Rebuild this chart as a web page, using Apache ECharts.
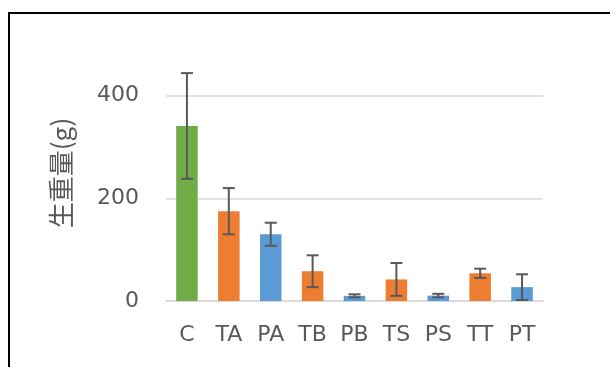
<!DOCTYPE html>
<html>
<head>
<meta charset="utf-8">
<script src="https://cdn.jsdelivr.net/npm/echarts@6/dist/echarts.min.js"></script>
<style>html,body{margin:0;padding:0;background:#fff;}#c{width:610px;height:367px;}</style>
</head>
<body>
<div id="c"></div>
<script>
var categories = ['C', 'TA', 'PA', 'TB', 'PB', 'TS', 'PS', 'TT', 'PT'];
var values = [341, 175, 130, 58, 10, 42, 10.5, 54, 27];
var errors = [103, 45, 22.5, 31, 3, 32, 3.5, 9, 25];
var barColors = ['#70AD47', '#ED7D31', '#5B9BD5', '#ED7D31', '#5B9BD5', '#ED7D31', '#5B9BD5', '#ED7D31', '#5B9BD5'];
var yTicks = [0, 200, 400];
var yTitle = '生重量(g)';

var chart = echarts.init(document.getElementById('c'), null, {renderer: 'canvas'});
var labelFont = 'DejaVu Sans';
var option = {
  animation: false,
  backgroundColor: '#ffffff',
  grid: {left: 166, right: 67, top: 95.7, bottom: 66, containLabel: false},
  xAxis: {
    type: 'category',
    data: categories,
    axisLine: {show: true, lineStyle: {color: '#d9d9d9', width: 1.5}},
    axisTick: {show: false},
    axisLabel: {color: '#595959', fontFamily: labelFont, fontSize: 22, margin: 23}
  },
  yAxis: {
    type: 'value',
    min: yTicks[0],
    max: yTicks[yTicks.length - 1],
    interval: yTicks[1] - yTicks[0],
    axisLine: {show: false},
    axisTick: {show: false},
    axisLabel: {color: '#595959', fontFamily: labelFont, fontSize: 22, margin: 27, padding: [0, 0, 8, 0]},
    splitLine: {lineStyle: {color: '#d9d9d9', width: 1.5}}
  },
  graphic: [
    {type: 'rect', shape: {x: 9, y: 13, width: 800, height: 600},
     style: {fill: 'none', stroke: '#000', lineWidth: 2}, silent: true},
    {type: 'text', x: 61, y: 173, rotation: Math.PI / 2,
     style: {text: yTitle, fill: '#595959', fontFamily: 'Noto Sans CJK JP', fontSize: 26,
             align: 'center', verticalAlign: 'middle'}}
  ],
  series: [
    {
      type: 'bar',
      barWidth: 21.5,
      data: values.map(function (v, i) { return {value: v, itemStyle: {color: barColors[i]}}; })
    },
    {
      type: 'custom',
      clip: false,
      z: 5,
      data: values.map(function (v, i) { return [i, v - errors[i], v + errors[i]]; }),
      renderItem: function (params, api) {
        var x = api.value(0);
        var lo = api.coord([x, api.value(1)]);
        var hi = api.coord([x, api.value(2)]);
        var hw = 6;
        var st = {stroke: '#595959', lineWidth: 2};
        return {
          type: 'group',
          children: [
            {type: 'line', shape: {x1: lo[0], y1: lo[1], x2: hi[0], y2: hi[1]}, style: st},
            {type: 'line', shape: {x1: lo[0] - hw, y1: lo[1], x2: lo[0] + hw, y2: lo[1]}, style: st},
            {type: 'line', shape: {x1: hi[0] - hw, y1: hi[1], x2: hi[0] + hw, y2: hi[1]}, style: st}
          ]
        };
      }
    }
  ]
};
chart.setOption(option);
</script>
</body>
</html>
